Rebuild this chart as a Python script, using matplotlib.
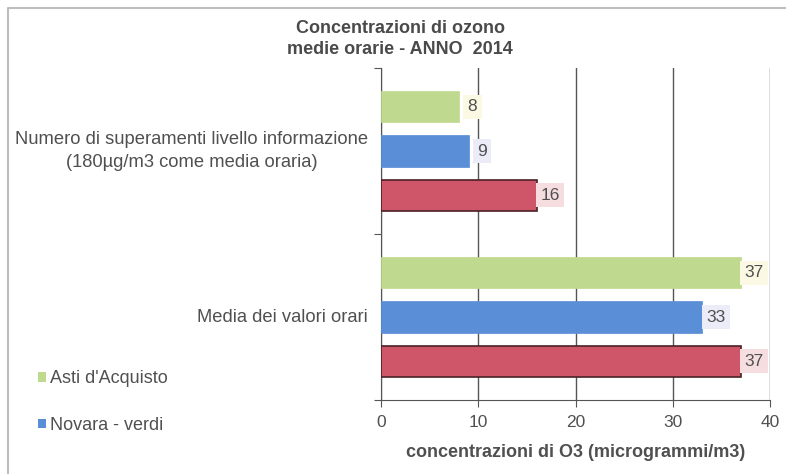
import matplotlib
matplotlib.use("Agg")
import matplotlib.pyplot as plt
from matplotlib.patches import Patch
from matplotlib.lines import Line2D

plt.rcParams['font.family'] = ['Liberation Sans', 'DejaVu Sans']

categories = ["Numero di superamenti livello informazione\n(180µg/m3 come media oraria)",
              "Media dei valori orari"]
series_names = ["Asti d'Acquisto", "Novara - verdi", ""]
asti = [8, 37]
novara = [9, 33]
third = [16, 37]
xticks = [0, 10, 20, 30, 40]

colors = ["#bfd98f", "#5a8ed6", "#cf5668"]
edge = ["#bfd98f", "#5a8ed6", "#4a2228"]
label_bg = ["#fbf8e4", "#ecebf8", "#f6dde0"]
text_col = "#505050"

fig = plt.figure(figsize=(7.86, 4.74), dpi=100)
# partial frame: top and left edges only
fig.lines.append(Line2D([8/786, 8/786, 1.0], [0.0, 1-8/474, 1-8/474], transform=fig.transFigure,
                        color="#bdbdbd", linewidth=1.5))

ax = fig.add_axes([381/786, 1-400/474, 389/786, 332/474])
centers = [0.5, 1.5]
off = 0.267
h = 0.188
for i, (vals, c, ec, bg) in enumerate(zip([asti, novara, third], colors, edge, label_bg)):
    ys = [cy - off + i*off for cy in centers]
    ax.barh(ys, vals, height=h, color=c, edgecolor=ec, linewidth=1.2 if i == 2 else 0.5, zorder=3)
    for y, v in zip(ys, vals):
        ax.text(v + 1.4, y, str(v), ha='center', va='center', fontsize=12.5, color=text_col, zorder=4,
                bbox=dict(boxstyle='square,pad=0.25', facecolor=bg, edgecolor='none'))

ax.set_xlim(0, 40)
ax.set_ylim(2, 0)
ax.set_xticks(xticks)
ax.set_xticklabels([str(t) for t in xticks], fontsize=12.5, color=text_col)
ax.tick_params(axis='x', length=5, color="#555555", pad=6)
ax.set_yticks([0, 1, 2])
ax.set_yticklabels([])
ax.tick_params(axis='y', length=5, color="#555555")
ax.grid(axis='x', color="#555555", linewidth=1.0, zorder=0)
for s in ['top', 'right']:
    ax.spines[s].set_visible(False)
ax.spines['left'].set_color("#555555")
ax.spines['bottom'].set_color("#555555")
ax.set_xlabel("concentrazioni di O3 (microgrammi/m3)", fontsize=13, fontweight='bold',
              color=text_col, labelpad=10)

for cy, lab in zip(centers, categories):
    ax.text(-0.033, cy, lab, transform=ax.get_yaxis_transform(), ha='right', va='center',
            multialignment='center', fontsize=13.2, color=text_col, linespacing=1.45)

fig.text(400/786, 1-39/474, "Concentrazioni di ozono\nmedie orarie - ANNO  2014",
         ha='center', va='center', fontsize=13, fontweight='bold', color="#4a4a4a", linespacing=1.25)

handles = [Patch(facecolor=colors[0]), Patch(facecolor=colors[1])]
fig.legend(handles, series_names[:2], loc='center left', bbox_to_anchor=(22/786, 1-402/474),
           frameon=False, fontsize=13, handlelength=0.45, handleheight=0.45, handletextpad=0.2,
           labelspacing=1.65, labelcolor=text_col)

fig.savefig("out.png", dpi=100)
